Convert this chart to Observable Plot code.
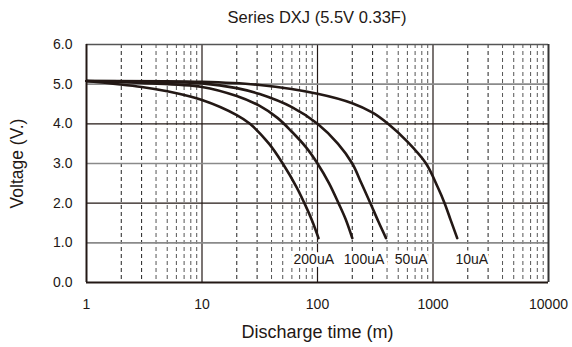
<!DOCTYPE html>
<html>
<head>
<meta charset="utf-8">
<script src="https://cdn.jsdelivr.net/npm/d3@7"></script>
<script src="https://cdn.jsdelivr.net/npm/@observablehq/plot@0.6"></script>
<style>
  body { margin: 0; background: #fff; }
  #title { box-sizing: border-box; width: 572px; height: 30px; padding-left: 62px; text-align: center;
           font: 16.5px "Liberation Sans", Arial, sans-serif; line-height: 34px; color: #231815; }
</style>
</head>
<body>
<div id="title">Series DXJ (5.5V 0.33F)</div>
<div id="chart"></div>
<script>
// ---- data ----
const seriesNames = ["200uA", "100uA", "50uA", "10uA"];
const t200 = [1, 3, 5, 10, 20, 26, 38, 50, 66, 77, 90, 102];
const v200 = [5.08, 4.93, 4.82, 4.6, 4.22, 4.0, 3.5, 3.0, 2.4, 2.0, 1.55, 1.12];
const t100 = [1, 3, 10, 20, 31.6, 45, 60, 80, 100, 126, 152, 175, 200];
const v100 = [5.08, 5.03, 4.93, 4.7, 4.45, 4.15, 3.8, 3.4, 3.0, 2.5, 2.0, 1.6, 1.12];
const t50 = [1, 3, 10, 20, 31.6, 60, 100, 150, 200, 240, 287, 335, 392];
const v50 = [5.08, 5.06, 5.02, 4.9, 4.75, 4.42, 4.0, 3.5, 3.0, 2.5, 2.0, 1.55, 1.12];
const t10 = [1, 10, 31.6, 100, 200, 300, 408, 600, 870, 1100, 1260, 1420, 1620];
const v10 = [5.08, 5.06, 4.98, 4.76, 4.52, 4.28, 4.0, 3.55, 3.0, 2.4, 2.0, 1.58, 1.12];
const labelX = [62, 169, 467, 1566];
const labelY = [0.58, 0.58, 0.58, 0.58];
const xTicks = [1, 10, 100, 1000, 10000];
const yTicks = [0, 1, 2, 3, 4, 5, 6];
const xTitle = "Discharge time (m)";
const yTitle = "Voltage (V.)";

const times = [t200, t100, t50, t10];
const volts = [v200, v100, v50, v10];
const curves = seriesNames.flatMap((s, i) => times[i].map((t, j) => ({series: s, t, v: volts[i][j]})));
const labels = seriesNames.map((s, i) => ({text: s, t: labelX[i], v: labelY[i]}));
const minor = [1, 10, 100, 1000].flatMap(d => [2,3,4,5,6,7,8,9].map(k => k * d));
const minorDark = minor.filter(m => [2,3].includes(Math.round(m / 10 ** Math.floor(Math.log10(m)))));
const minorLight = minor.filter(m => !minorDark.includes(m));
const majors = [10, 100, 1000];

const ink = "#231815";
const chart = Plot.plot({
  width: 572,
  height: 317,
  marginTop: 14,
  marginBottom: 65,
  marginLeft: 86,
  marginRight: 24,
  style: {fontFamily: "'Liberation Sans', Arial, sans-serif", fontSize: "14px", color: ink, background: "#fff"},
  x: {type: "log", domain: [1, 10000], ticks: xTicks, tickFormat: d => String(d), tickSize: 0, tickPadding: 17, label: null},
  y: {domain: [0, 6], ticks: yTicks, tickFormat: d => d.toFixed(1), tickSize: 0, tickPadding: 14, label: null},
  marks: [
    Plot.ruleX(minorLight, {stroke: "#555", strokeWidth: 1, strokeDasharray: "4,3"}),
    Plot.ruleX(minorDark, {stroke: "#222", strokeWidth: 1, strokeDasharray: "4,3"}),
    Plot.ruleX(majors, {stroke: ink, strokeWidth: 1.2}),
    Plot.ruleY([1, 3, 5], {stroke: "#8a8a8a", strokeWidth: 1.6}),
    Plot.ruleY([2, 4], {stroke: ink, strokeWidth: 1.2}),
    Plot.ruleY([6], {stroke: "#555", strokeWidth: 1.6}),
    Plot.ruleX([10000], {stroke: "#333", strokeWidth: 2}),
    Plot.ruleX([1], {stroke: ink, strokeWidth: 2}),
    Plot.ruleY([0], {stroke: ink, strokeWidth: 2}),
    Plot.line(curves, {x: "t", y: "v", z: "series", stroke: ink, strokeWidth: 2.6, curve: "catmull-rom"}),
    Plot.text(labels, {x: "t", y: "v", text: "text", textAnchor: "start", fill: ink, fontSize: 14,
      stroke: "white", strokeWidth: 7, paintOrder: "stroke"}),
    Plot.text([xTitle], {text: d => d, frameAnchor: "bottom", lineAnchor: "middle", dy: 50, fontSize: 18, fill: ink}),
    Plot.text([yTitle], {text: d => d, frameAnchor: "left", textAnchor: "middle", rotate: -90, dx: -69, fontSize: 17.5, fill: ink})
  ]
});
document.getElementById("chart").appendChild(chart);
</script>
</body>
</html>
